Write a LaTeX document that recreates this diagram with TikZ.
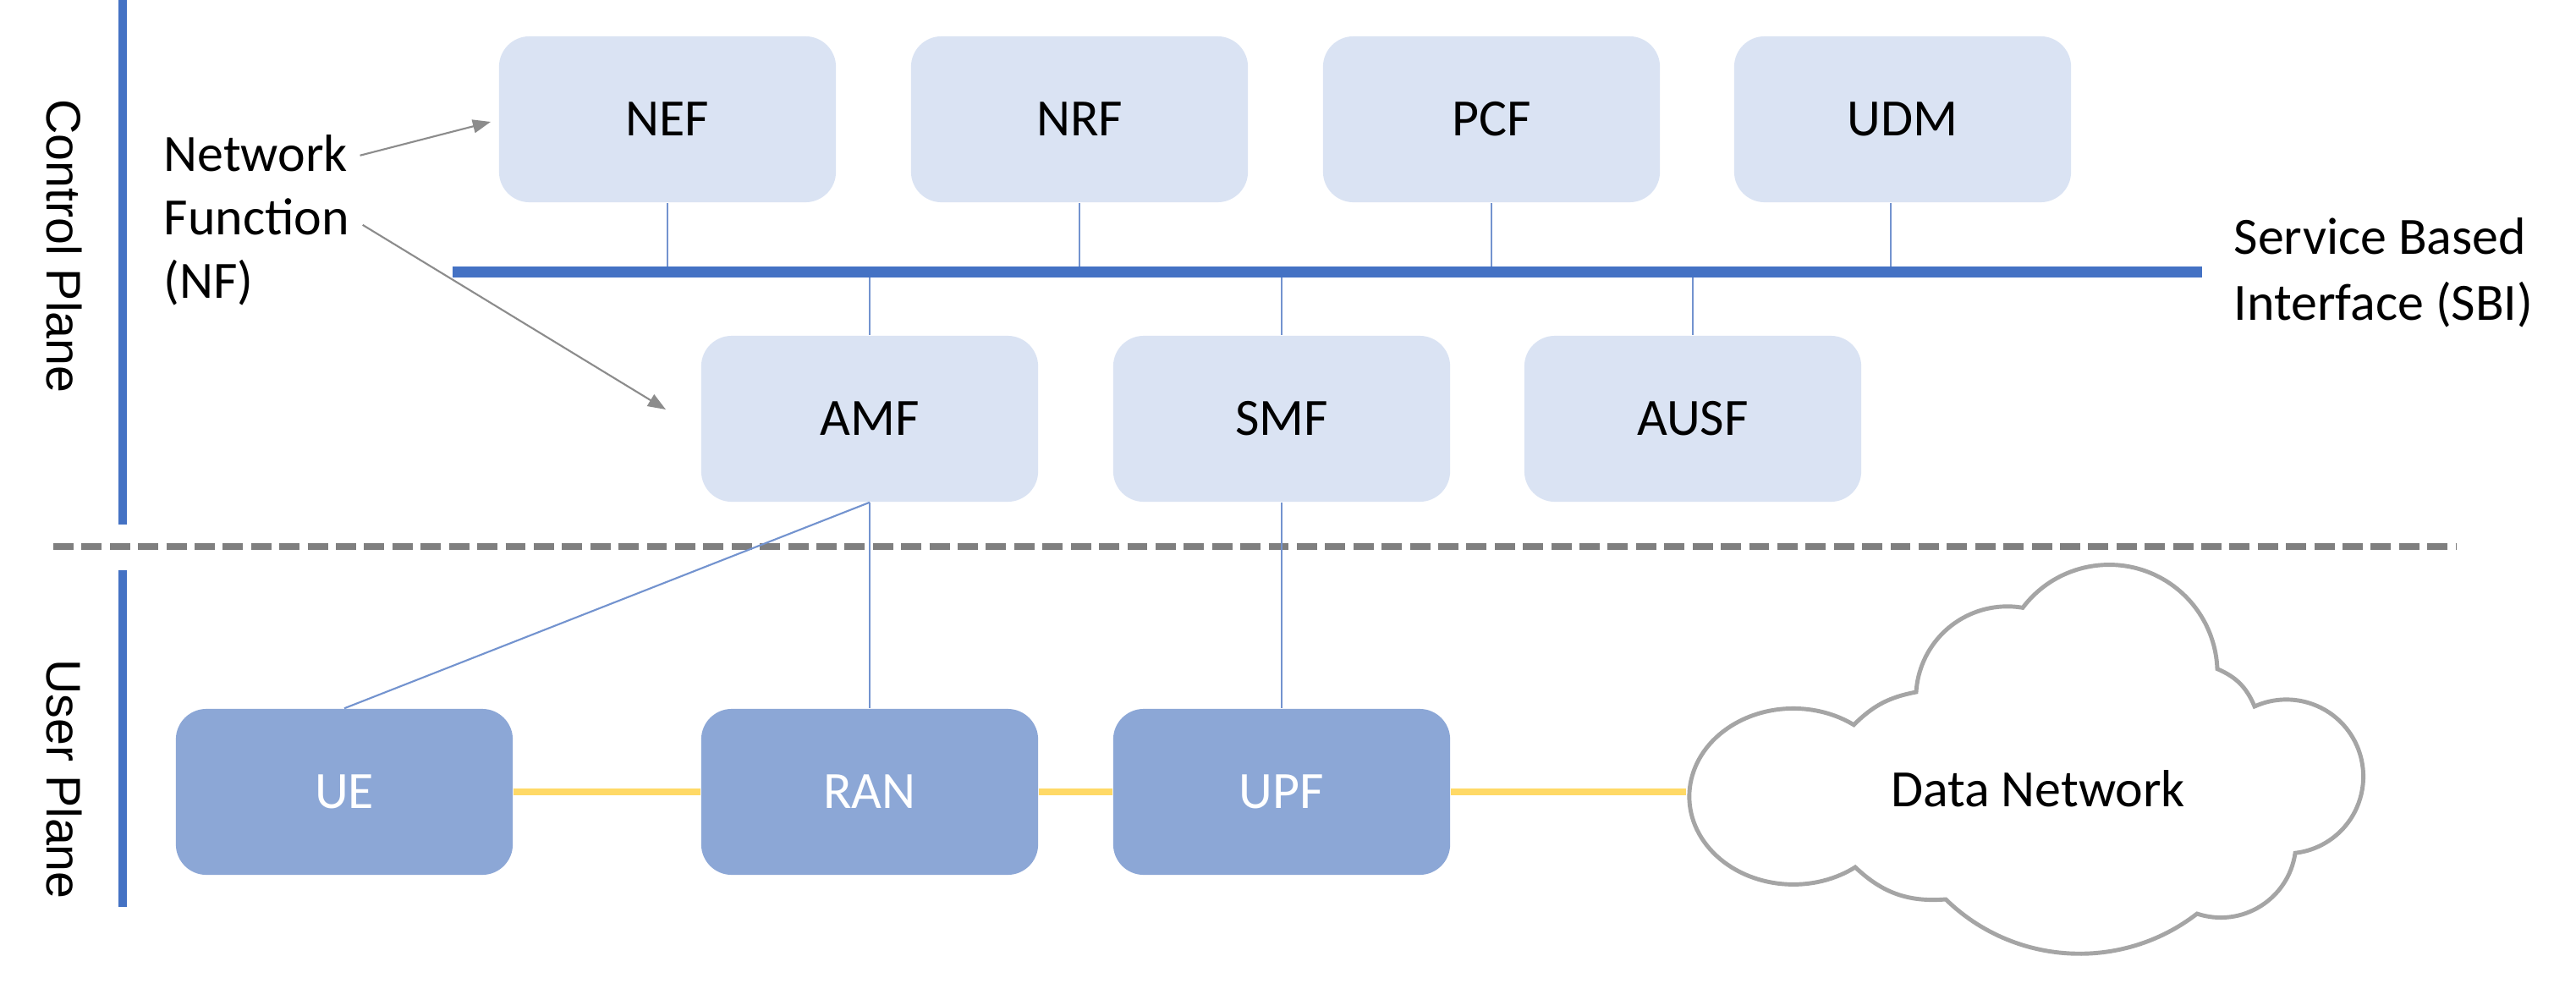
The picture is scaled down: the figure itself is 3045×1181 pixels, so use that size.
\documentclass[tikz,border=0pt]{standalone}
\usepackage{fontspec}
\setmainfont{Carlito}
\newfontfamily\arialf{Liberation Sans}
\usetikzlibrary{arrows.meta,calc}
\definecolor{lightbox}{HTML}{DAE3F3}
\definecolor{darkbox}{HTML}{8CA7D6}
\definecolor{accblue}{HTML}{4472C4}
\definecolor{connblue}{HTML}{7393CF}
\definecolor{sunyellow}{HTML}{FFD966}
\definecolor{dashgray}{HTML}{7F7F7F}
\definecolor{cloudgray}{HTML}{A5A5A5}
\definecolor{arrowgray}{HTML}{8C8C8C}
\begin{document}
\begin{tikzpicture}[x=0.01cm,y=-0.01cm,
  nfbox/.style={rectangle, rounded corners=0.36cm, minimum width=3.98cm, minimum height=1.96cm, inner sep=0pt, font=\fontsize{17.6}{21}\selectfont},
  cpbox/.style={nfbox, fill=lightbox, text=black},
  upbox/.style={nfbox, fill=darkbox, text=white},
  conn/.style={draw=connblue, line width=0.6pt},
  userline/.style={draw=sunyellow, line width=2.3pt},
  planeline/.style={draw=accblue, line width=2.6pt},
  lbl/.style={inner sep=0pt, font=\fontsize{17.6}{21}\selectfont},
  planelbl/.style={inner sep=0pt, rotate=-90, font=\arialf\fontsize{16.3}{19}\selectfont},
  nfarrow/.style={draw=arrowgray, line width=0.6pt, -{Triangle[length=6pt,width=4.5pt]}},
  cloudline/.style={fill=white, draw=cloudgray, line width=1.4pt, line join=miter},
]
\fill[white] (0,0) rectangle (3045,1181);
\useasboundingbox (0,0) rectangle (3045,1181);

% plane separators
\coordinate (cpTop) at (145,0);
\coordinate (cpBot) at (145,620);
\coordinate (upTop) at (145,674);
\coordinate (upBot) at (145,1072);
\draw[planeline] (cpTop) -- (cpBot);
\draw[planeline] (upTop) -- (upBot);
\node[planelbl] (cplbl) at (76,291) {Control Plane};
\node[planelbl] (uplbl) at (76,921) {User Plane};

\coordinate (dashL) at (63,646);
\coordinate (dashR) at (2903,646);
\draw[dashgray, line width=2.2pt, dash pattern=on 6.8pt off 2.7pt] (dashL) -- (dashR);

% network functions
\node[cpbox] (nef) at (789,141) {NEF};
\node[cpbox] (nrf) at (1276,141) {NRF};
\node[cpbox] (pcf) at (1763,141) {PCF};
\node[cpbox] (udm) at (2249,141) {UDM};
\node[cpbox] (amf) at (1028,495) {AMF};
\node[cpbox] (smf) at (1515,495) {SMF};
\node[cpbox] (ausf) at (2001,495) {AUSF};
\node[upbox] (ue) at (407,936) {UE};
\node[upbox] (ran) at (1028,936) {RAN};
\node[upbox] (upf) at (1515,936) {UPF};

% service based interface
\coordinate (sbiL) at (535,321);
\coordinate (sbiR) at (2603,321);
\foreach \n in {nef,nrf,pcf} \draw[conn] (\n.south) -- (\n.south |- sbiL);
\coordinate (udmc) at ([xshift=-0.14cm]udm.south);
\draw[conn] (udmc) -- (udmc |- sbiL);
\foreach \n in {amf,smf,ausf} \draw[conn] (\n.north |- sbiL) -- (\n.north);
\draw[accblue, line width=3.7pt] (sbiL) -- (sbiR);
\node[lbl, anchor=base west] (sbi1) at (2640,300) {Service Based};
\node[lbl, anchor=base west] (sbi2) at (2640,378) {Interface (SBI)};

% control to user plane links
\draw[conn] (amf.south) -- (ran.north);
\draw[conn] (smf.south) -- (upf.north);
\draw[conn] (amf.south) -- (ue.north);

% data network cloud
\filldraw[cloudline] (2193,1025)
  arc[start angle=53.5, end angle=305.5, x radius=123, y radius=104]
  to[bend left=17] (2265,818)
  arc[start angle=183.6, end angle=279.7, radius=108]
  arc[start angle=217.1, end angle=357.8, radius=128]
  to[bend left=22] (2665,835)
  arc[start angle=245.6, end angle=443.4, radius=91]
  to[bend left=50, looseness=1.04] (2597,1080)
  to[bend left=41, looseness=0.97] (2300,1063)
  to[bend left=24] (2193,1025)
  -- cycle;
\coordinate (cloudW) at (1993,936);
\node[lbl, anchor=base] (dn) at (2409,953) {Data Network};

% user plane links
\draw[userline] (ue.east) -- (ran.west);
\draw[userline] (ran.east) -- (upf.west);
\draw[userline] (upf.east) -- (cloudW);

% network function annotation
\node[lbl, anchor=base west] (nf1) at (193,202) {Network};
\node[lbl, anchor=base west] (nf2) at (193,277) {Function};
\node[lbl, anchor=base west] (nf3) at (193,352) {(NF)};
\coordinate (a1e) at (580,144);
\coordinate (a2e) at (787,484);
\draw[nfarrow] ([xshift=0.14cm, yshift=-0.03cm]nf1.east) -- (a1e);
\draw[nfarrow] ([xshift=0.15cm, yshift=-0.1cm]nf2.east) -- (a2e);
\end{tikzpicture}
\end{document}
